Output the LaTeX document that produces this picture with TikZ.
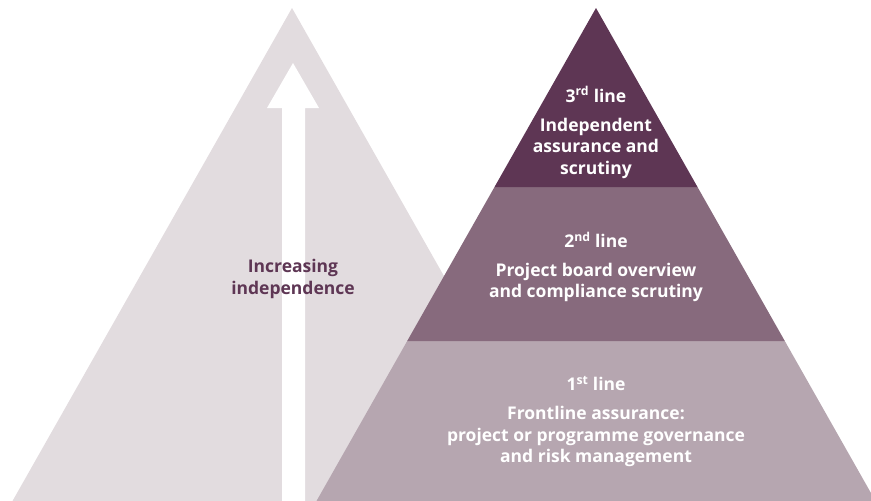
\documentclass[tikz,border=0pt]{standalone}
\usepackage{fontspec}
\setmainfont{Open Sans}
\definecolor{backgrey}{HTML}{E2DCDF}
\definecolor{plumdark}{HTML}{5E3654}
\definecolor{plummid}{HTML}{876A7D}
\definecolor{plumlight}{HTML}{B6A6B0}
\tikzset{
	tiertext/.style={align=center,text=white,font=\bfseries\fontsize{17.5}{21.5}\selectfont},
	sidetext/.style={align=center,text=plumdark,font=\bfseries\fontsize{17.5}{21.5}\selectfont}
}
\begin{document}
\begin{tikzpicture}[x=1pt,y=-1pt]
	\useasboundingbox (0,0) rectangle (871,501);
	% background pyramid with arrow
	\fill [backgrey] (292,8) -- (571.5,501) -- (12.5,501) -- cycle;
	\fill [white] (282,501) -- (282,108) -- (267,108) -- (293,63) -- (319,108) -- (305,108) -- (305,501) -- cycle;
	\node[sidetext] (incr) at (293,279) {Increasing\\independence};
	% three lines
	\fill [plumlight] (407.2,341) -- (784.8,341) -- (875.5,501) -- (316.5,501) -- cycle;
	\fill [plummid] (494.5,187) -- (697.5,187) -- (784.8,341) -- (407.2,341) -- cycle;
	\fill [plumdark] (596,8) -- (697.5,187) -- (494.5,187) -- cycle;
	\node[tiertext] (third) at (596,132.5) {3\textsuperscript{rd} line\\[7.5pt]Independent\\assurance and\\scrutiny};
	\node[tiertext] (second) at (596,267) {2\textsuperscript{nd} line\\[7.5pt]Project board overview\\and compliance scrutiny};
	\node[tiertext] (first) at (596,421.5) {1\textsuperscript{st} line\\[7.5pt]Frontline assurance:\\project or programme governance\\and risk management};
\end{tikzpicture}
\end{document}
